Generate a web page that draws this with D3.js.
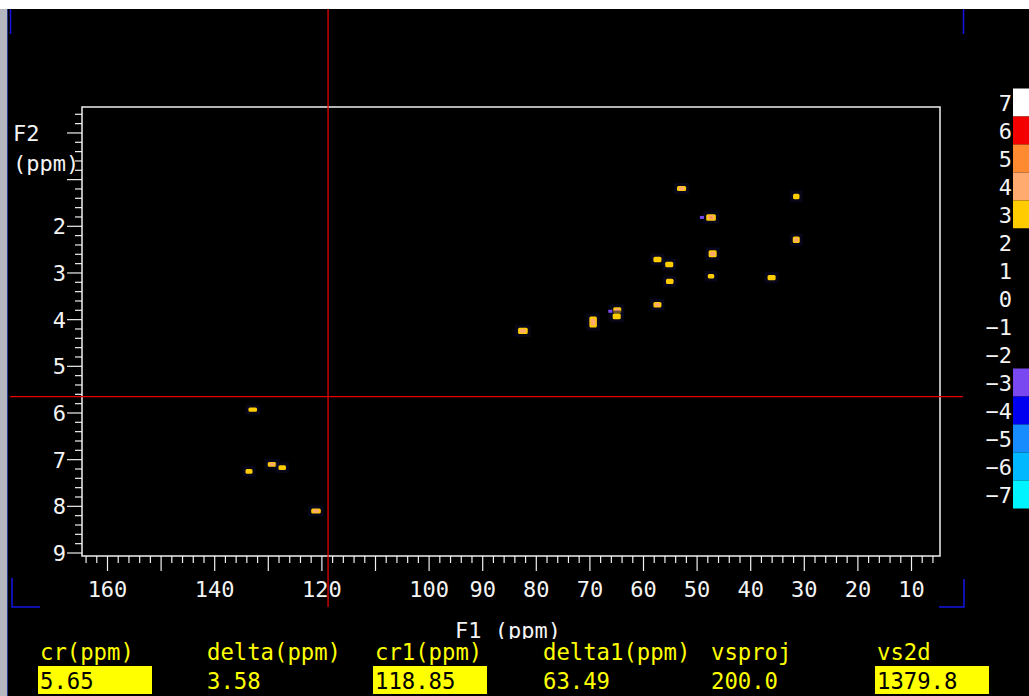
<!DOCTYPE html>
<html>
<head>
<meta charset="utf-8">
<script src="https://cdn.jsdelivr.net/npm/d3@7"></script>
<style>
  html, body { margin: 0; padding: 0; background: #000; }
  svg { display: block; }
  text { font-family: "DejaVu Sans Mono", "Liberation Mono", monospace; }
</style>
</head>
<body>
<svg id="chart" width="1029" height="696"></svg>
<script>
// ---------------- DATA ----------------
// Cross peaks: F1 (x, ppm), F2 (y, ppm), highest contour level reached
const peakF1 = [52.9, 31.5, 47.4, 31.5, 47.1, 57.4, 55.2, 55.1, 47.4, 36.1, 57.4, 64.9, 65.0, 69.4, 82.5, 132.9, 133.6, 129.3, 127.4, 121.1];
const peakF2 = [1.19, 1.36, 1.81, 2.29, 2.59, 2.71, 2.82, 3.18, 3.07, 3.10, 3.68, 3.80, 3.93, 4.05, 4.24, 5.93, 7.25, 7.10, 7.17, 8.10];
const peakLevel = [4, 3, 5, 4, 4, 3, 3, 3, 3, 3, 4, 4, 3, 4, 4, 3, 3, 4, 3, 4];
// Peak extents (ppm)
const peakWF1 = [1.7, 1.2, 1.8, 1.3, 1.5, 1.5, 1.5, 1.4, 1.2, 1.5, 1.5, 1.5, 1.5, 1.4, 1.8, 1.6, 1.3, 1.6, 1.4, 1.8];
const peakWF2 = [0.11, 0.12, 0.14, 0.14, 0.15, 0.12, 0.12, 0.11, 0.10, 0.11, 0.12, 0.13, 0.12, 0.24, 0.13, 0.09, 0.10, 0.10, 0.10, 0.11];
// Negative (purple) contours
const negF1 = [49.1, 66.2];
const negF2 = [1.81, 3.82];

// Axis ticks
const xTickLabels = [160, 140, 120, 100, 90, 80, 70, 60, 50, 40, 30, 20, 10];
const yTickLabels = [2, 3, 4, 5, 6, 7, 8, 9];

// Contour level colour bar
const levels = [7, 6, 5, 4, 3, 2, 1, 0, -1, -2, -3, -4, -5, -6, -7];
const levelColors = ["#ffffff", "#f50000", "#ff8a30", "#ffaa6e", "#ffcc00", "#000000", "#000000", "#000000", "#000000", "#000000",
                     "#7a48f0", "#0000f0", "#168cff", "#00b8ff", "#00f4ff"];

// Cursor and parameter panel
const crPPM = 5.65;      // F2 cursor
const cr1PPM = 118.85;   // F1 cursor
const paramNames = ["cr(ppm)", "delta(ppm)", "cr1(ppm)", "delta1(ppm)", "vsproj", "vs2d"];
const paramValues = ["5.65", "3.58", "118.85", "63.49", "200.0", "1379.8"];
const paramBoxed = [true, false, true, false, false, true];

// ---------------- LAYOUT ----------------
const svg = d3.select("#chart");
const W = 1029, H = 696;
const frame = { left: 82, right: 940, top: 107, bottom: 556 };

const x = d3.scaleLinear().domain([160, 10]).range([107.5, 911.5]);
const y = d3.scaleLinear().domain([2, 9]).range([226.3, 553]);

// background
svg.append("rect").attr("x", 0).attr("y", 0).attr("width", W).attr("height", H).attr("fill", "#000");
svg.append("rect").attr("x", 0).attr("y", 0).attr("width", W).attr("height", 9).attr("fill", "#ffffff");
svg.append("rect").attr("x", 0).attr("y", 9).attr("width", 7).attr("height", H - 9).attr("fill", "#b4b6c0");
svg.append("line").attr("x1", 7.5).attr("x2", 7.5).attr("y1", 9).attr("y2", H).attr("stroke", "#2a3a8a").attr("stroke-width", 1);

// blue corner marks
const blue = "#1414e6";
svg.append("line").attr("x1", 10.5).attr("x2", 10.5).attr("y1", 9).attr("y2", 34).attr("stroke", blue).attr("stroke-width", 1.5);
svg.append("line").attr("x1", 963.5).attr("x2", 963.5).attr("y1", 9).attr("y2", 34).attr("stroke", blue).attr("stroke-width", 1.5);
svg.append("path").attr("d", "M12,578 L12,607 L40,607").attr("fill", "none").attr("stroke", blue).attr("stroke-width", 1.5);
svg.append("path").attr("d", "M964,579 L964,607 L939,607").attr("fill", "none").attr("stroke", blue).attr("stroke-width", 1.5);

// frame
svg.append("rect")
  .attr("x", frame.left).attr("y", frame.top)
  .attr("width", frame.right - frame.left).attr("height", frame.bottom - frame.top)
  .attr("fill", "none").attr("stroke", "#f0f0f0").attr("stroke-width", 1.5);

// x ticks
const xg = svg.append("g").attr("stroke", "#f0f0f0").attr("stroke-width", 1.2);
d3.range(4, 165, 2).forEach(v => {
  const px = x(v);
  if (px < frame.left || px > frame.right) return;
  const major = v % 10 === 0;
  xg.append("line").attr("x1", px).attr("x2", px).attr("y1", frame.bottom).attr("y2", frame.bottom + (major ? 15 : 7));
});
svg.append("g").selectAll("text").data(xTickLabels).join("text")
  .attr("x", d => x(d)).attr("y", 597)
  .attr("text-anchor", "middle").attr("fill", "#f4f4f4").attr("font-size", 22)
  .text(d => d);

// y ticks
const yg = svg.append("g").attr("stroke", "#f0f0f0").attr("stroke-width", 1.2);
d3.range(-4, 91, 2).forEach(k => {
  const v = k / 10;
  const py = y(v);
  if (py < frame.top || py > frame.bottom) return;
  const major = k % 10 === 0;
  yg.append("line").attr("x1", frame.left).attr("x2", frame.left - (major ? 15 : 7)).attr("y1", py).attr("y2", py);
});
svg.append("g").selectAll("text").data(yTickLabels).join("text")
  .attr("x", 66).attr("y", d => y(d) + 8)
  .attr("text-anchor", "end").attr("fill", "#f4f4f4").attr("font-size", 22)
  .text(d => d);

svg.append("text").attr("x", 13).attr("y", 141).attr("fill", "#f4f4f4").attr("font-size", 22).text("F2");
svg.append("text").attr("x", 13).attr("y", 171).attr("fill", "#f4f4f4").attr("font-size", 22).text("(ppm)");

// peaks
const peaks = peakF1.map((f1, i) => ({ f1, f2: peakF2[i], lvl: peakLevel[i], w: peakWF1[i], h: peakWF2[i] }));
const lvlColor = l => levelColors[levels.indexOf(l)];
const pg = svg.append("g");
peaks.forEach(p => {
  const cx = x(p.f1), cy = y(p.f2);
  const pw = Math.abs(x(p.f1 + p.w) - x(p.f1));
  const ph = Math.abs(y(p.f2 + p.h) - y(p.f2));
  // faint halo
  pg.append("rect").attr("x", cx - pw / 2 - 3).attr("y", cy - ph / 2 - 3).attr("width", pw + 6).attr("height", ph + 6)
    .attr("fill", "#0c0c2a").attr("opacity", 0.6);
  for (let l = 3; l <= p.lvl; l++) {
    const s = 1 - (l - 3) * 0.36;
    pg.append("rect")
      .attr("x", cx - pw * s / 2).attr("y", cy - ph * s / 2)
      .attr("width", pw * s).attr("height", Math.max(ph * s, 2))
      .attr("rx", 1.5)
      .attr("fill", lvlColor(l));
  }
});
svg.append("g").selectAll("rect").data(negF1).join("rect")
  .attr("x", (d) => x(d) - 2).attr("y", (d, i) => y(negF2[i]) - 1.5)
  .attr("width", 4).attr("height", 3)
  .attr("fill", lvlColor(-3));

// cursor lines
svg.append("line").attr("x1", 10).attr("x2", 963).attr("y1", y(crPPM)).attr("y2", y(crPPM))
  .attr("stroke", "#e80000").attr("stroke-width", 1.3);
svg.append("line").attr("x1", x(cr1PPM)).attr("x2", x(cr1PPM)).attr("y1", 9).attr("y2", 607)
  .attr("stroke", "#e80000").attr("stroke-width", 1.3);

// colour bar
const band = d3.scaleBand().domain(levels).range([88.5, 508.5]);
svg.append("g").selectAll("rect").data(levels).join("rect")
  .attr("x", 1013).attr("y", d => band(d)).attr("width", 16).attr("height", band.bandwidth())
  .attr("fill", (d, i) => levelColors[i]);
svg.append("g").selectAll("text").data(levels).join("text")
  .attr("x", 1012).attr("y", d => band(d) + band.bandwidth() / 2 + 8)
  .attr("text-anchor", "end").attr("fill", "#f4f4f4").attr("font-size", 22)
  .attr("font-family", "DejaVu Sans, sans-serif")
  .text(d => d < 0 ? "\u2212" + Math.abs(d) : d);

// F1 axis label (partially hidden by the panel)
svg.append("text").attr("x", 455).attr("y", 638).attr("fill", "#f4f4f4").attr("font-size", 22).text("F1 (ppm)");
svg.append("rect").attr("x", 8).attr("y", 639).attr("width", W - 8).attr("height", H - 639).attr("fill", "#000");

// parameter panel
const paramX = [40, 207, 375, 543, 711, 877];
const panel = svg.append("g");
paramNames.forEach((n, i) => {
  panel.append("text").attr("x", paramX[i]).attr("y", 660)
    .attr("fill", "#ffff00").attr("font-size", 23)
    .attr("textLength", n.length * 13.4).attr("lengthAdjust", "spacingAndGlyphs")
    .text(n);
  if (paramBoxed[i]) {
    panel.append("rect").attr("x", paramX[i] - 2).attr("y", 666).attr("width", 114).attr("height", 28).attr("fill", "#ffff00");
  }
  const v = paramValues[i];
  panel.append("text").attr("x", paramX[i]).attr("y", 689)
    .attr("fill", paramBoxed[i] ? "#000" : "#ffff00").attr("font-size", 23)
    .attr("textLength", v.length * 13.4).attr("lengthAdjust", "spacingAndGlyphs")
    .text(v);
});
</script>
</body>
</html>
